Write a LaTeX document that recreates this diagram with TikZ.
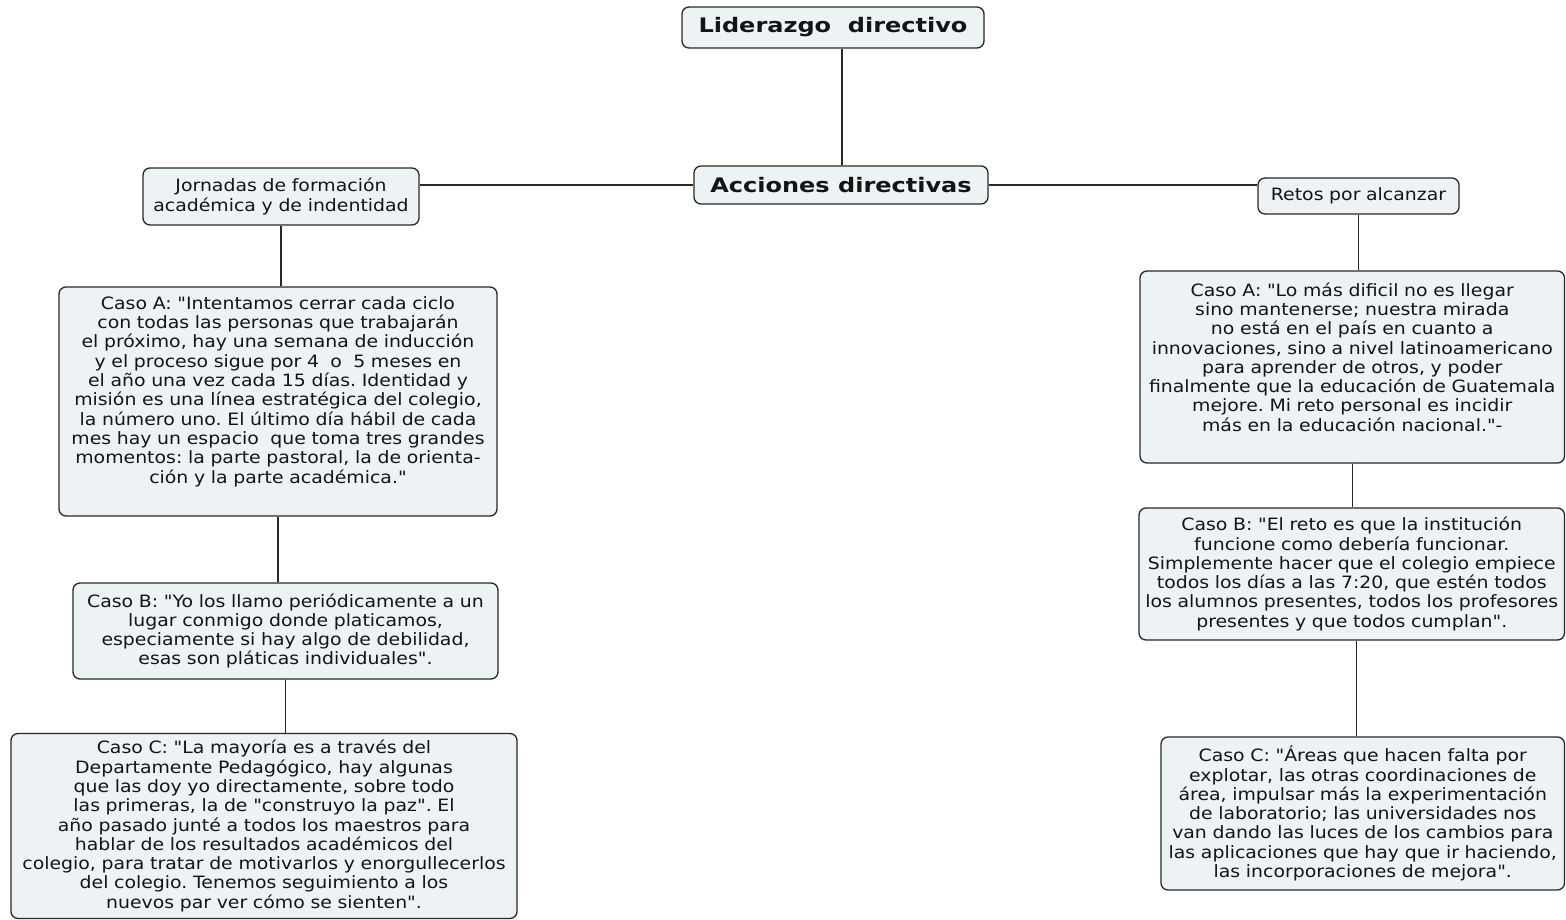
\documentclass[tikz,border=0pt]{standalone}
\usepackage{fontspec}
\newfontfamily\bodyfont[FakeStretch=1.11]{DejaVu Sans}
\newfontfamily\titlefont[FakeStretch=1.2]{DejaVu Sans}
\frenchspacing
\definecolor{cardfill}{RGB}{237,242,244}
\definecolor{edge}{RGB}{40,40,40}
\definecolor{ink}{RGB}{20,20,20}
\tikzset{
  card/.style={draw=edge, line width=1.3pt, fill=cardfill, rounded corners=7pt,
    text=ink, align=center, inner xsep=2pt, inner ysep=0pt,
    font=\bodyfont\frenchspacing\fontsize{17}{19.3}\selectfont},
  titlecard/.style={card, font=\titlefont\bfseries\fontsize{20}{24}\selectfont},
  link/.style={draw=edge, line width=1.3pt}
}
\begin{document}
\begin{tikzpicture}[x=1pt, y=-1pt]
\useasboundingbox (0,0) rectangle (1566,920);

% centre and main branch
\node[titlecard, minimum width=302pt, minimum height=41pt] (lid) at (833,27.5) {Liderazgo\ \ directivo};
\node[titlecard, minimum width=294pt, minimum height=38pt] (acc) at (841,185) {Acciones directivas};

% left branch
\node[card, text width=272pt, minimum height=57pt] (jor) at (281,196.5)
  {Jornadas de formación\\académica y de indentidad};
\node[card, text width=434pt, minimum height=229pt] (la) at (278,401.5)
  {Caso A: "Intentamos cerrar cada ciclo\\
   con todas las personas que trabajarán\\
   el próximo, hay una semana de inducción\\
   y el proceso sigue por 4\ \ o\ \ 5 meses en\\
   el año una vez cada 15 días. Identidad y\\
   misión es una línea estratégica del colegio,\\
   la número uno. El último día hábil de cada\\
   mes hay un espacio\ \ que toma tres grandes\\
   momentos: la parte pastoral, la de orienta-\\
   ción y la parte académica."\par\kern20pt};
\node[card, text width=421pt, minimum height=96pt] (lb) at (285.5,631)
  {Caso B: "Yo los llamo periódicamente a un\\
   lugar conmigo donde platicamos,\\
   especiamente si hay algo de debilidad,\\
   esas son pláticas individuales".};
\node[card, text width=502pt, minimum height=185pt] (lc) at (264,826)
  {Caso C: "La mayoría es a través del\\
   Departamente Pedagógico, hay algunas\\
   que las doy yo directamente, sobre todo\\
   las primeras, la de "construyo la paz". El\\
   año pasado junté a todos los maestros para\\
   hablar de los resultados académicos del\\
   colegio, para tratar de motivarlos y enorgullecerlos\\
   del colegio. Tenemos seguimiento a los\\
   nuevos par ver cómo se sienten".};

% right branch
\node[card, text width=197pt, minimum height=36pt] (ret) at (1358.5,196) {Retos por alcanzar};
\node[card, text width=420.5pt, minimum height=192pt] (ra) at (1352.25,367)
  {Caso A: "Lo más dificil no es llegar\\
   sino mantenerse; nuestra mirada\\
   no está en el país en cuanto a\\
   innovaciones, sino a nivel latinoamericano\\
   para aprender de otros, y poder\\
   finalmente que la educación de Guatemala\\
   mejore. Mi reto personal es incidir\\
   más en la educación nacional."-\par\kern20pt};
\node[card, text width=421.5pt, minimum height=132pt] (rb) at (1351.75,574)
  {Caso B: "El reto es que la institución\\
   funcione como debería funcionar.\\
   Simplemente hacer que el colegio empiece\\
   todos los días a las 7:20, que estén todos\\
   los alumnos presentes, todos los profesores\\
   presentes y que todos cumplan".};
\node[card, text width=399.5pt, minimum height=153pt] (rc) at (1362.75,813.5)
  {Caso C: "Áreas que hacen falta por\\
   explotar, las otras coordinaciones de\\
   área, impulsar más la experimentación\\
   de laboratorio; las universidades nos\\
   van dando las luces de los cambios para\\
   las aplicaciones que hay que ir haciendo,\\
   las incorporaciones de mejora".};

% connectors
\path ([xshift=9pt]lid.south) coordinate (lids);
\draw[link] (lids) -- (lids |- acc.north);
\draw[link] (acc.west) -- (acc.west -| jor.east);
\draw[link] (acc.east) -- (acc.east -| ret.west);
\draw[link] (jor.south) -- (jor.south |- la.north);
\draw[link] (la.south) -- (la.south |- lb.north);
\draw[link] (lb.south) -- (lb.south |- lc.north);
\draw[link] (ret.south) -- (ret.south |- ra.north);
\draw[link] (ra.south) -- (ra.south |- rb.north);
\path ([xshift=5pt]rb.south) coordinate (rbs);
\draw[link] (rbs) -- (rbs |- rc.north);
\end{tikzpicture}
\end{document}
